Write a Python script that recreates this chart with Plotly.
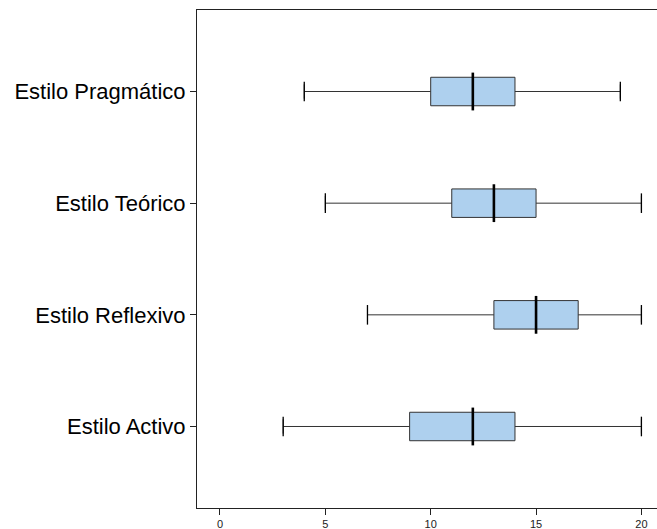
import plotly.graph_objects as go

categories = ["Estilo Activo", "Estilo Reflexivo", "Estilo Teórico", "Estilo Pragmático"]
lower = [3, 7, 5, 4]
q1 = [9, 13, 11, 10]
median = [12, 15, 13, 12]
q3 = [14, 17, 15, 14]
upper = [20, 20, 20, 19]
x_ticks = [0, 5, 10, 15, 20]

fig = go.Figure()
fig.add_trace(go.Box(
    y=categories, q1=q1, median=median, q3=q3,
    lowerfence=lower, upperfence=upper,
    orientation="h", width=0.255,
    fillcolor="#AED0EE",
    line=dict(color="#333333", width=1),
    boxpoints=False, hoverinfo="skip", showlegend=False,
))
# medians
fig.add_trace(go.Scatter(
    x=median, y=categories, mode="markers",
    marker=dict(symbol="line-ns", size=27, line=dict(color="black", width=2.6)),
    hoverinfo="skip", showlegend=False,
))
# whisker caps
fig.add_trace(go.Scatter(
    x=lower + upper, y=categories + categories, mode="markers",
    marker=dict(symbol="line-ns", size=14, line=dict(color="black", width=1.3)),
    hoverinfo="skip", showlegend=False,
))

fig.update_layout(
    width=657, height=529,
    margin=dict(l=197, r=0, t=10, b=21, autoexpand=False),
    paper_bgcolor="white", plot_bgcolor="white",
    font=dict(family="Liberation Sans, Arial, sans-serif", color="black"),
)
fig.update_xaxes(
    range=[-1.09, 20.74], tickvals=x_ticks, ticktext=[str(v) for v in x_ticks],
    showgrid=False, zeroline=False, showline=True, mirror=True,
    linecolor="#222222", linewidth=1,
    ticks="outside", ticklen=6, tickcolor="#222222",
    tickfont=dict(size=11, color="#222222"),
)
fig.update_yaxes(
    type="category", categoryorder="array", categoryarray=categories,
    range=[-0.73, 3.73],
    showgrid=False, zeroline=False, showline=True, mirror=False,
    linecolor="#222222", linewidth=1,
    ticks="outside", ticklen=6, tickcolor="#222222",
    tickfont=dict(size=22, color="black"),
)

fig.write_html("out.html", config={"displayModeBar": False},
               post_script="document.body.style.margin='0';")
